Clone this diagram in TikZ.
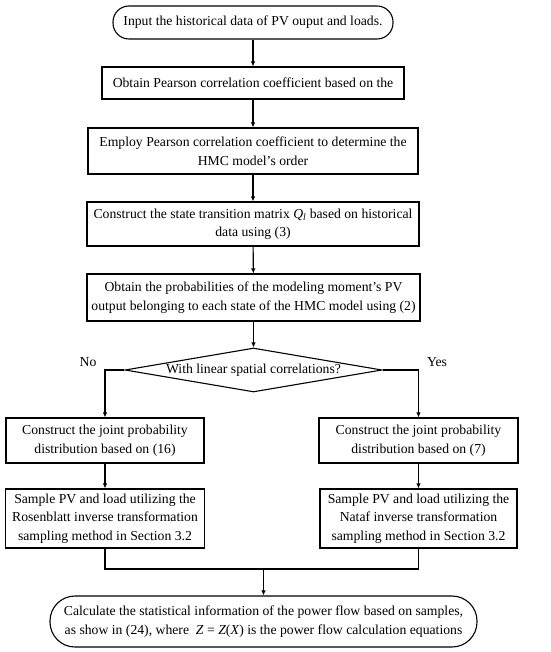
\documentclass[tikz,border=0pt]{standalone}
\usepackage{fontspec}
\setmainfont{Liberation Serif}
\usepackage{tikz}
\usetikzlibrary{shapes.geometric,arrows.meta,positioning,calc}

\begin{document}
\begin{tikzpicture}[x=1pt, y=-1pt,
  font=\fontsize{13.7}{18.5}\selectfont,
  proc/.style={rectangle, draw=black, line width=1.1pt, align=center, inner sep=1pt},
  term/.style={rectangle, rounded corners=16pt, draw=black, line width=1.1pt, align=center, inner sep=1pt},
  decide/.style={diamond, draw=black, line width=1.1pt, aspect=5.84, inner sep=0pt,
    minimum width=257pt, minimum height=44pt, align=center},
  arr/.style={-{Latex[length=5pt,width=4.5pt]}, line width=1.1pt},
  lnk/.style={line width=1.1pt}]
\useasboundingbox (0,0) rectangle (550,652);
% main column
\node[term, minimum width=280pt, minimum height=33pt] (input) at (253,22.5)
  {Input the historical data of PV ouput and loads.};
\node[proc, minimum width=302pt, minimum height=32pt] (pearson) at (253,83)
  {Obtain Pearson correlation coefficient based on the};
\node[proc, minimum width=330pt, minimum height=46pt] (order) at (253,151)
  {Employ Pearson correlation coefficient to determine the\\HMC model’s order};
\node[proc, minimum width=332pt, minimum height=44pt] (matrix) at (253,224)
  {Construct the state transition matrix \textit{Q}\textsubscript{\textit{l}} based on historical\\data using (3)};
\node[proc, minimum width=333pt, minimum height=47pt] (prob) at (253.5,297.5)
  {Obtain the probabilities of the modeling moment’s PV\\output belonging to each state of the HMC model using (2)};
\node[decide] (linear) at (253.5,370) {With linear spatial correlations?};
\node (no) at (88,362) {No};
\node (yes) at (437,362) {Yes};
% branches
\node[proc, minimum width=198pt, minimum height=45pt] (jointl) at (105,440.5)
  {Construct the joint probability\\distribution based on (16)};
\node[proc, minimum width=199pt, minimum height=45pt] (jointr) at (418.5,440.5)
  {Construct the joint probability\\distribution based on (7)};
\node[proc, minimum width=199pt, minimum height=59pt] (rosen) at (105,518.5)
  {Sample PV and load utilizing the\\Rosenblatt inverse transformation\\sampling method in Section 3.2};
\node[proc, minimum width=197pt, minimum height=59pt] (nataf) at (418.5,518.5)
  {Sample PV and load utilizing the\\Nataf inverse transformation\\sampling method in Section 3.2};
\coordinate (merge) at (263.5,569);
\node[term, rounded corners=25pt, minimum width=427pt, minimum height=51pt] (result) at (263.5,621.5)
  {Calculate the statistical information of the power flow based on samples,\\as show in (24), where \ \textit{Z} = \textit{Z}(\textit{X}) is the power flow calculation equations};
% connectors
\draw[arr] (input) -- (pearson);
\draw[arr] (pearson) -- (order);
\draw[arr] (order) -- (matrix);
\draw[arr] (matrix) -- (prob);
\draw[arr] (prob) -- (linear);
\draw[arr] (linear.west) -| (jointl.north);
\draw[arr] (linear.east) -| (jointr.north);
\draw[arr] (jointl) -- (rosen);
\draw[arr] (jointr) -- (nataf);
\draw[lnk] (rosen.south) |- (merge);
\draw[lnk] (nataf.south) |- (merge);
\draw[arr] (merge) -- (result);
\end{tikzpicture}
\end{document}
